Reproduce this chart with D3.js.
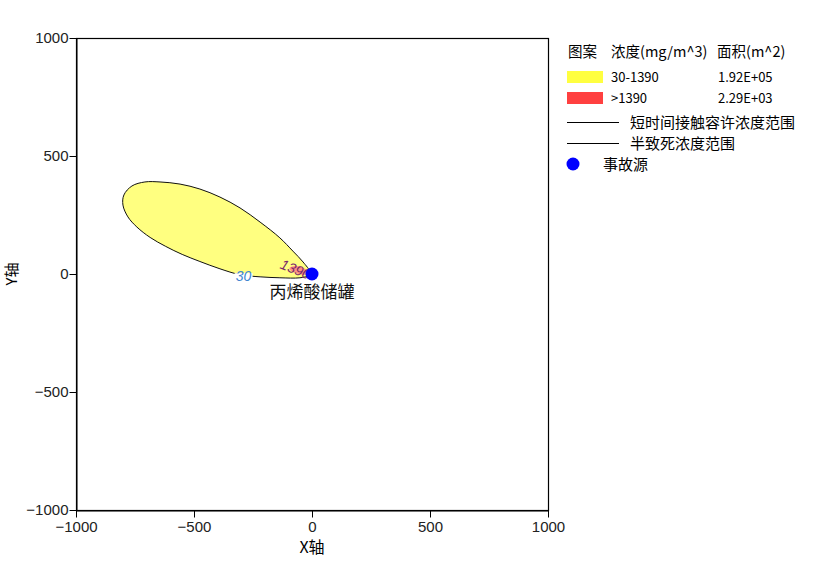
<!DOCTYPE html>
<html>
<head>
<meta charset="utf-8">
<script src="https://cdn.jsdelivr.net/npm/d3@7"></script>
<style>
  body { margin: 0; background: #fff; }
  svg { display: block; }
  text { font-family: "Liberation Sans", Arial, sans-serif; }
  .cjk { font-family: "Noto Sans CJK SC", sans-serif; }
</style>
</head>
<body>
<div id="chart"></div>
<script>
// axis domain / ticks
var xDomain = [-1000, 1000];
var yDomain = [-1000, 1000];
var xTicks = [-1000, -500, 0, 500, 1000];
var yTicks = [-1000, -500, 0, 500, 1000];

// outer contour (30 mg/m^3), in metres
var contour30 = [
    [-8, 8], [-38, 51], [-81, 97], [-136, 153], [-220, 220], [-305, 280],
    [-390, 326], [-475, 360], [-559, 381], [-644, 390], [-708, 390],
    [-763, 373], [-797, 335], [-801, 292], [-780, 242], [-742, 199],
    [-686, 155], [-620, 117], [-550, 83], [-475, 53], [-390, 22],
    [-305, -3], [-220, -12], [-136, -16], [-51, -16], [-13, -6]
];
// inner contour (1390 mg/m^3)
var contour1390 = [
    [-95, 26], [-75, 34], [-45, 30], [-18, 14], [-10, 2],
    [-35, -4], [-70, 4], [-92, 16]
];
var contourLabels = [
    {text: "30", x: -290, y: -9, angle: 0, color: "#3f86d0"},
    {text: "1390", x: -70, y: 20, angle: 22, color: "#7a2a6a"}
];
var source = {name: "丙烯酸储罐", x: 0, y: 0};

// legend
var legendHeader = ["图案", "浓度(mg/m^3)", "面积(m^2)"];
var legendFills = [
    {color: "#ffff40", range: "30-1390", area: "1.92E+05"},
    {color: "#ff4040", range: ">1390", area: "2.29E+03"}
];
var legendLines = ["短时间接触容许浓度范围", "半致死浓度范围"];
var legendDot = "事故源";

var width = 835, height = 578;
var margin = {top: 38, left: 76};
var plotW = 472, plotH = 472;

var svg = d3.select("#chart").append("svg")
    .attr("width", width)
    .attr("height", height);

var x = d3.scaleLinear().domain(xDomain).range([margin.left, margin.left + plotW]);
var y = d3.scaleLinear().domain(yDomain).range([margin.top + plotH, margin.top]);

// frame
svg.append("rect")
    .attr("x", x(xDomain[0]) + 0.5)
    .attr("y", y(yDomain[1]) + 0.5)
    .attr("width", plotW)
    .attr("height", plotH)
    .attr("fill", "#fff")
    .attr("stroke", "#000")
    .attr("stroke-width", 1.2);

var xAxis = svg.append("g")
    .attr("transform", "translate(0," + (y(yDomain[0]) + 0.5) + ")")
    .call(d3.axisBottom(x).tickValues(xTicks).tickSize(7).tickSizeOuter(0)
        .tickFormat(d3.format("d")));
var yAxis = svg.append("g")
    .attr("transform", "translate(" + (x(xDomain[0]) + 0.5) + ",0)")
    .call(d3.axisLeft(y).tickValues(yTicks).tickSize(7).tickSizeOuter(0)
        .tickFormat(d3.format("d")));

[xAxis, yAxis].forEach(function (g) {
    g.select(".domain").attr("stroke", "#000");
    g.selectAll(".tick line").attr("stroke", "#000");
    g.selectAll(".tick text")
        .attr("fill", "#222")
        .style("font-size", "15px")
        .style("font-family", "'Liberation Sans', Arial, sans-serif")
        .text(function (d) { return d < 0 ? "\u2212" + Math.abs(d) : d; });
});
xAxis.selectAll(".tick text").attr("dy", "0.95em").attr("y", 7);
yAxis.selectAll(".tick text").attr("x", -8);

// axis titles
svg.append("text")
    .attr("class", "cjk")
    .attr("x", x(0))
    .attr("y", 553)
    .attr("text-anchor", "middle")
    .style("font-size", "16px")
    .text("X轴");
svg.append("text")
    .attr("class", "cjk")
    .attr("transform", "translate(17," + y(0) + ") rotate(-90)")
    .attr("text-anchor", "middle")
    .style("font-size", "15px")
    .text("Y轴");

// contours
var line = d3.line()
    .x(function (d) { return x(d[0]); })
    .y(function (d) { return y(d[1]); })
    .curve(d3.curveCatmullRomClosed.alpha(0.5));

svg.append("path")
    .datum(contour30)
    .attr("d", line)
    .attr("fill", "#ffff80")
    .attr("stroke", "#111")
    .attr("stroke-width", 1);

svg.append("path")
    .datum(contour1390)
    .attr("d", line)
    .attr("fill", "#ff8080")
    .attr("fill-opacity", 0.85)
    .attr("stroke", "none");

// contour labels, the 30 one with a white gap in the line
contourLabels.forEach(function (c) {
    var t = svg.append("text")
        .attr("transform", "translate(" + x(c.x) + "," + y(c.y) + ") rotate(" + c.angle + ")")
        .attr("text-anchor", "middle")
        .attr("dy", "0.35em")
        .attr("fill", c.color)
        .style("font-size", "14px")
        .style("font-style", "italic")
        .text(c.text);
    if (c.text === "30") {
        svg.insert("rect", function () { return t.node(); })
            .attr("x", x(c.x) - 9)
            .attr("y", y(c.y) - 3)
            .attr("width", 18)
            .attr("height", 6)
            .attr("fill", "#fff");
    }
});

// source
svg.append("circle")
    .attr("cx", x(source.x))
    .attr("cy", y(source.y))
    .attr("r", 6.5)
    .attr("fill", "#0000ff");
svg.append("text")
    .attr("class", "cjk")
    .attr("x", x(source.x))
    .attr("y", y(source.y) + 24)
    .attr("text-anchor", "middle")
    .style("font-size", "17px")
    .attr("fill", "#111")
    .text(source.name);

// legend
var lg = svg.append("g").attr("class", "cjk").style("font-size", "14px");
var colX = [568, 611, 717];
lg.selectAll("text.hdr").data(legendHeader).enter().append("text")
    .attr("class", "hdr cjk")
    .attr("x", function (d, i) { return colX[i]; })
    .attr("y", 57)
    .style("font-size", "14.5px")
    .text(function (d) { return d; });

legendFills.forEach(function (f, i) {
    var cy = 77 + i * 21;
    lg.append("rect")
        .attr("x", 567).attr("y", cy - 6)
        .attr("width", 36).attr("height", 12)
        .attr("fill", f.color);
    lg.append("text").attr("class", "cjk")
        .attr("x", 611).attr("y", cy + 5)
        .style("font-size", "13px")
        .text(f.range);
    lg.append("text").attr("class", "cjk")
        .attr("x", 718).attr("y", cy + 5)
        .style("font-size", "13px")
        .text(f.area);
});

legendLines.forEach(function (l, i) {
    var cy = 122.5 + i * 21;
    lg.append("line")
        .attr("x1", 567).attr("x2", 619)
        .attr("y1", cy).attr("y2", cy)
        .attr("stroke", "#000").attr("stroke-width", 1);
    lg.append("text").attr("class", "cjk")
        .attr("x", 630).attr("y", cy + 5)
        .style("font-size", "15px")
        .text(l);
});

lg.append("circle")
    .attr("cx", 573).attr("cy", 164)
    .attr("r", 6.5)
    .attr("fill", "#0000ff");
lg.append("text").attr("class", "cjk")
    .attr("x", 603).attr("y", 170)
    .style("font-size", "15px")
    .text(legendDot);
</script>
</body>
</html>
